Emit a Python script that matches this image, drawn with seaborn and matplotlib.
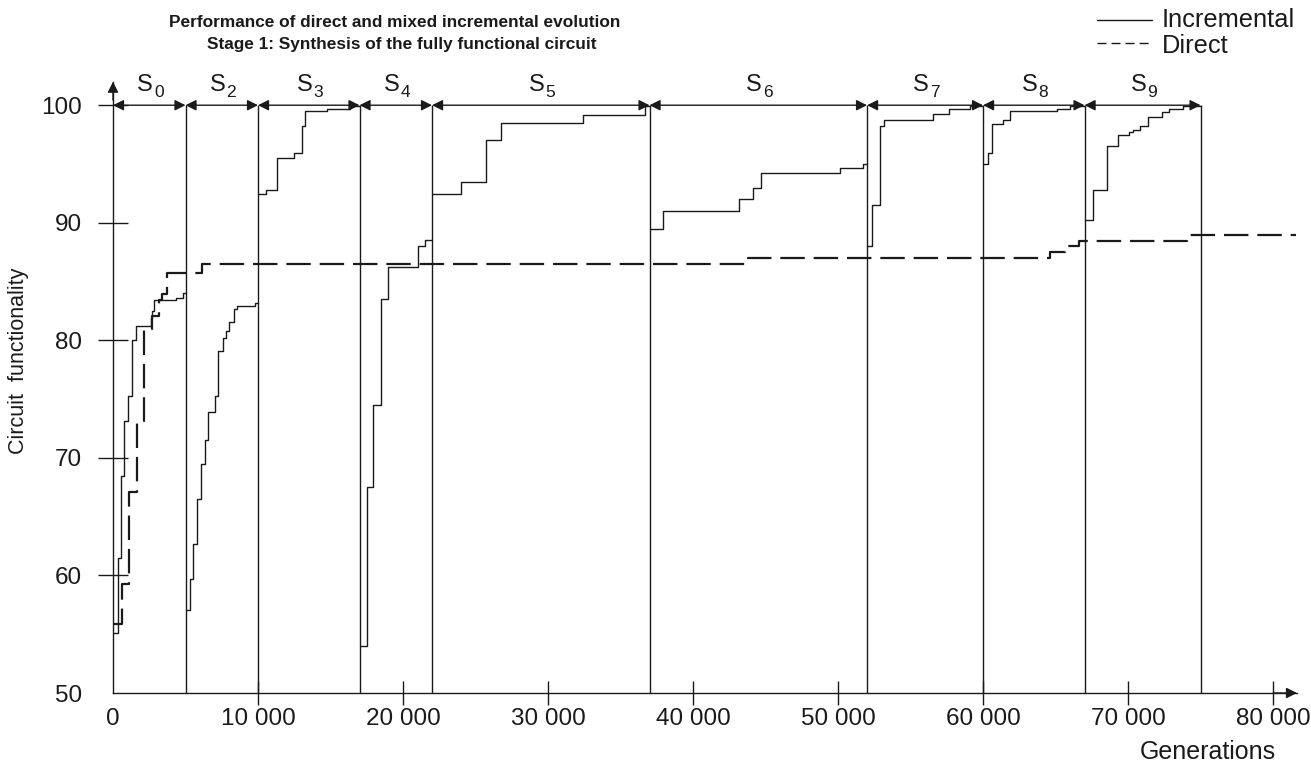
import numpy as np
import pandas as pd
import matplotlib
matplotlib.use("Agg")
import matplotlib.pyplot as plt
from matplotlib.lines import Line2D
import seaborn as sns

# ---------------- data ----------------
stage_edges = [0, 5000, 10000, 17000, 22000, 37000, 52000, 60000, 67000, 75000]
stage_names = ["0", "2", "3", "4", "5", "6", "7", "8", "9"]

s0_gen = [0, 324, 531, 779, 1055, 1290, 1566, 2600, 2712, 2828, 4345, 4807, 5000]
s0_val = [55.1, 61.5, 68.5, 73.1, 75.3, 80.0, 81.2, 81.9, 82.5, 83.4, 83.6, 84.0, 84.0]
s2_gen = [5000, 5310, 5540, 5770, 6050, 6345, 6530, 7035, 7265, 7565, 7793, 8023, 8345, 8530, 9793, 10000]
s2_val = [57.05, 59.7, 62.7, 66.5, 69.5, 71.5, 73.9, 75.3, 79.1, 80.2, 80.8, 81.6, 82.7, 82.9, 83.2, 83.2]
s3_gen = [10000, 10531, 11290, 12505, 13014, 13242, 14780, 16345, 17000]
s3_val = [92.47, 92.75, 95.47, 95.95, 98.27, 99.5, 99.7, 99.92, 99.92]
s4_gen = [17000, 17495, 17954, 18483, 18989, 21014, 21518, 22000]
s4_val = [54.0, 67.5, 74.5, 83.5, 86.25, 88.0, 88.5, 88.5]
s5_gen = [22000, 23980, 25725, 26760, 32437, 36690, 37000]
s5_val = [92.47, 93.5, 97.0, 98.5, 99.2, 99.9, 99.9]
s6_gen = [37000, 37913, 43175, 44162, 44672, 50140, 51706, 52000]
s6_val = [89.5, 91.0, 91.98, 92.98, 94.25, 94.68, 95.0, 95.0]
s7_gen = [52000, 52370, 52900, 53176, 56575, 57655, 59103, 60000]
s7_val = [88.0, 91.5, 98.27, 98.7, 99.26, 99.7, 99.9, 99.9]
s8_gen = [60000, 60370, 60646, 61360, 61866, 65082, 66000, 67000]
s8_val = [95.0, 95.95, 98.44, 98.7, 99.5, 99.7, 99.9, 99.9]
s9_gen = [67000, 67610, 68575, 69335, 70093, 70325, 70830, 71360, 72330, 72850, 73800, 75000]
s9_val = [90.24, 92.75, 96.5, 97.5, 97.7, 97.9, 98.25, 98.96, 99.4, 99.7, 99.9, 99.9]

direct_gen = [0, 600, 1126, 1632, 2161, 2667, 3195, 3356, 3700, 6115, 43816, 64620, 65660, 66620, 74050, 81600]
direct_val = [55.9, 59.25, 67.1, 73.1, 81.0, 82.1, 83.4, 83.9, 85.7, 86.5, 87.0, 87.5, 88.0, 88.45, 89.0, 89.0]

x_ticks = [0, 10000, 20000, 30000, 40000, 50000, 60000, 70000, 80000]
x_tick_labels = ["0", "10 000", "20 000", "30 000", "40 000", "50 000", "60 000", "70 000", "80 000"]
y_ticks = [50, 60, 70, 80, 90, 100]

title_lines = ["Performance of direct and mixed incremental evolution",
               "Stage 1: Synthesis of the fully functional circuit"]

# ---------------- style ----------------
sns.set_theme(style="ticks")
plt.rcParams["font.family"] = ["Liberation Sans", "DejaVu Sans"]
INK = "#1a1a1a"

stages = [s0_gen, s2_gen, s3_gen, s4_gen, s5_gen, s6_gen, s7_gen, s8_gen, s9_gen]
vals = [s0_val, s2_val, s3_val, s4_val, s5_val, s6_val, s7_val, s8_val, s9_val]
inc_df = pd.concat([pd.DataFrame({"gen": g, "val": v, "stage": n})
                    for g, v, n in zip(stages, vals, stage_names)], ignore_index=True)
dir_df = pd.DataFrame({"gen": direct_gen, "val": direct_val})

fig = plt.figure(figsize=(13.11, 7.63), dpi=100)
ax = fig.add_axes([113 / 1311, 70 / 763, 1184 / 1311, 611.3 / 763])

sns.lineplot(data=inc_df, x="gen", y="val", units="stage", estimator=None, sort=False,
             drawstyle="steps-post", color=INK, lw=1.0, ax=ax)
sns.lineplot(data=dir_df, x="gen", y="val", estimator=None, sort=False,
             drawstyle="steps-post", color=INK, lw=1.6, linestyle=(0, (11, 4)), ax=ax)

ax.set_xlim(0, 81650)
ax.set_ylim(50, 102)

# stage boundaries
ax.vlines(stage_edges[1:], 50, 100, color=INK, lw=1.0)

# stage arrows & labels
for a, b, n in zip(stage_edges[:-1], stage_edges[1:], stage_names):
    ax.annotate("", xy=(b, 100), xytext=(a, 100),
                arrowprops=dict(arrowstyle="<|-|>", color=INK, lw=1.0,
                                mutation_scale=16, shrinkA=0, shrinkB=0))
    xc = (a + b) / 2
    ax.annotate("S", xy=(xc, 101.25), xytext=(-3, 0), textcoords="offset points",
                ha="center", va="baseline", fontsize=17, color=INK)
    ax.annotate(n, xy=(xc, 101.25), xytext=(3.5, -5), textcoords="offset points",
                ha="left", va="baseline", fontsize=12.5, color=INK)

# axes
sns.despine(ax=ax)
for s in ["left", "bottom"]:
    ax.spines[s].set_color(INK)
    ax.spines[s].set_linewidth(1.0)
ax.annotate("", xy=(1.0, 0), xycoords="axes fraction", xytext=(0.98, 0),
            arrowprops=dict(arrowstyle="-|>", color=INK, lw=1.0, mutation_scale=16,
                            shrinkA=0, shrinkB=0))
ax.annotate("", xy=(0, 1.0), xycoords="axes fraction", xytext=(0, 0.97),
            arrowprops=dict(arrowstyle="-|>", color=INK, lw=1.0, mutation_scale=16,
                            shrinkA=0, shrinkB=0))

ax.set_xticks(x_ticks)
ax.set_xticklabels(x_tick_labels)
ax.set_yticks(y_ticks)
ax.tick_params(axis="x", direction="inout", length=17.3, width=1.0, pad=2,
               labelsize=17.5, colors=INK)
ax.tick_params(axis="y", direction="inout", length=21.6, width=1.0, pad=11.5,
               labelsize=17.5, colors=INK)
ax.xaxis.get_major_ticks()[0].tick1line.set_visible(False)
ax.yaxis.get_major_ticks()[0].tick1line.set_visible(False)

ax.set_xlabel("Generations", fontsize=18, color=INK, ha="right")
ax.xaxis.set_label_coords(0.982, -0.077)
ax.set_ylabel("Circuit  functionality", fontsize=15.5, color=INK)
ax.yaxis.set_label_coords(-0.071, 0.543)

# title
fig.text(395 / 1311, 1 - 27 / 763, title_lines[0], ha="center", va="baseline",
         fontsize=12.4, weight="bold", color=INK)
fig.text(402 / 1311, 1 - 49 / 763, title_lines[1], ha="center", va="baseline",
         fontsize=12.4, weight="bold", color=INK)

# legend
fig.add_artist(Line2D([1097 / 1311, 1152 / 1311], [1 - 20 / 763] * 2, color=INK, lw=1.0))
fig.add_artist(Line2D([1097 / 1311, 1152 / 1311], [1 - 43 / 763] * 2, color=INK, lw=1.0,
                      linestyle=(0, (6.5, 3.6))))
fig.text(1162 / 1311, 1 - 27 / 763, "Incremental", ha="left", va="baseline",
         fontsize=18.3, color=INK)
fig.text(1162 / 1311, 1 - 53 / 763, "Direct", ha="left", va="baseline",
         fontsize=18.3, color=INK)

fig.savefig("out.png", dpi=100)
